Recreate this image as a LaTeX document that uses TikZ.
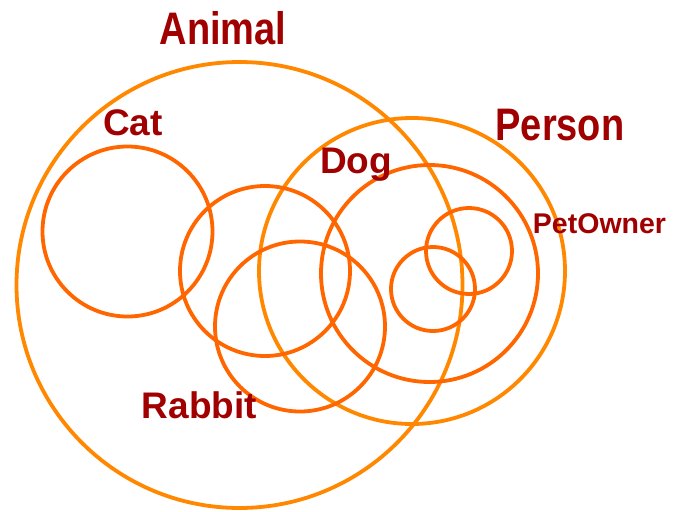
\documentclass[tikz,border=0pt]{standalone}
\usepackage{fontspec}
\setmainfont{Liberation Sans}
\definecolor{outerc}{HTML}{FF8800}
\definecolor{innerc}{HTML}{FF6600}
\definecolor{labelc}{HTML}{A00000}
\begin{document}
\begin{tikzpicture}[x=1pt,y=-1pt,
  outerset/.style={draw=outerc,line width=3.8pt},
  innerset/.style={draw=innerc,line width=3.8pt},
  lab/.style={text=labelc,font=\bfseries,inner sep=0pt,anchor=base}]
\useasboundingbox (0,0) rectangle (673,512);
% outer sets
\draw[outerset] (239.5,285) circle (223);
\draw[outerset] (412,271) circle (153);
% inner sets
\draw[innerset] (127.5,231.5) circle (85);
\draw[innerset] (265,271) circle (85);
\draw[innerset] (300,326.5) circle (85);
\draw[innerset] (429.5,273.5) circle (108.5);
\draw[innerset] (469,251) circle (43);
\draw[innerset] (433,289) circle (42);
% labels
\node[lab,font=\fontsize{38}{40}\bfseries] (animal) at (223,44) {\scalebox{1}[1.2]{Animal}};
\node[lab,font=\fontsize{38}{40}\bfseries] (person) at (560,140) {\scalebox{1}[1.2]{Person}};
\node[lab,font=\fontsize{37}{40}\bfseries] (cat) at (133,135) {Cat};
\node[lab,font=\fontsize{37}{40}\bfseries] (dog) at (356,173) {Dog};
\node[lab,font=\fontsize{37}{40}\bfseries] (rabbit) at (199.5,418) {Rabbit};
\node[lab,font=\fontsize{28.5}{30}\bfseries] (petowner) at (599.5,233) {PetOwner};
\end{tikzpicture}
\end{document}
